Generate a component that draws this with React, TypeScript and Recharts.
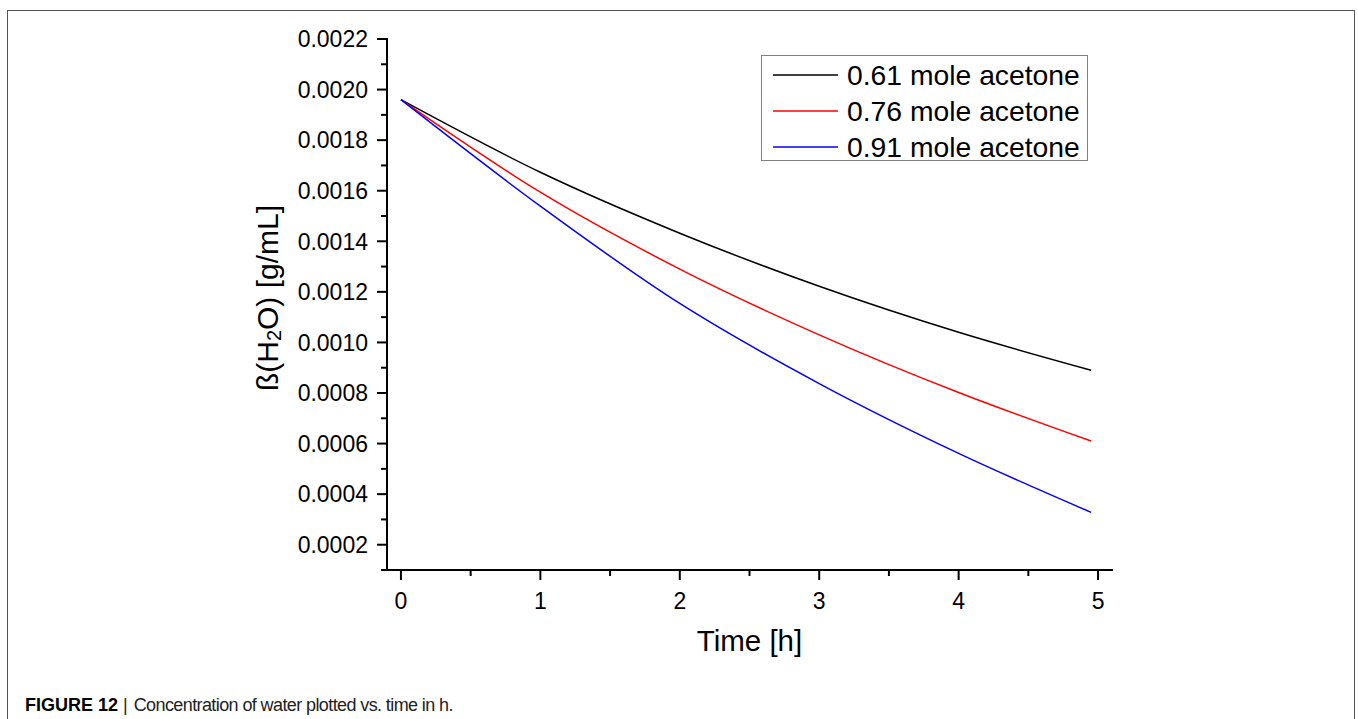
import { LineChart, Line, XAxis, YAxis, Legend } from "recharts";

const FONT = "'Liberation Sans', Arial, Helvetica, sans-serif";

// time in hours, concentrations in g/mL
const TIME_H = [0, 1, 2, 3, 4, 4.95];
const ACETONE_061 = [0.00196, 0.001673, 0.001432, 0.001222, 0.00104, 0.00089];
const ACETONE_076 = [0.00196, 0.001594, 0.00129, 0.00103, 0.000802, 0.00061];
const ACETONE_091 = [0.00196, 0.001539, 0.001154, 0.000837, 0.000561, 0.000328];

const SERIES = [
  { key: "a061", name: "0.61 mole acetone", color: "#000000", values: ACETONE_061 },
  { key: "a076", name: "0.76 mole acetone", color: "#ff0000", values: ACETONE_076 },
  { key: "a091", name: "0.91 mole acetone", color: "#0000ff", values: ACETONE_091 },
];

const X_TICKS = [0, 0.5, 1, 1.5, 2, 2.5, 3, 3.5, 4, 4.5, 5];
const Y_TICKS = [
  0.0001, 0.0002, 0.0003, 0.0004, 0.0005, 0.0006, 0.0007, 0.0008, 0.0009, 0.001, 0.0011,
  0.0012, 0.0013, 0.0014, 0.0015, 0.0016, 0.0017, 0.0018, 0.0019, 0.002, 0.0021, 0.0022,
];

const data = TIME_H.map((t, i) => {
  const row: Record<string, number> = { t };
  for (const s of SERIES) row[s.key] = s.values[i];
  return row;
});

const frame = { stroke: "#000", strokeWidth: 2, strokeLinecap: "square" as const };

function XTick({ x, y, payload }: any) {
  const major = Number.isInteger(payload.value);
  return (
    <g>
      <line x1={x} x2={x} y1={y} y2={y + (major ? 10 : 6)} stroke="#000" strokeWidth={2} />
      {major && (
        <text x={x} y={y + 39} textAnchor="middle" fontSize={23} fontFamily={FONT} fill="#000">
          {payload.value}
        </text>
      )}
    </g>
  );
}

function YTick({ x, y, payload }: any) {
  const major = Math.round(payload.value * 10000) % 2 === 0;
  return (
    <g>
      <line x1={x - (major ? 10 : 6)} x2={x} y1={y} y2={y} stroke="#000" strokeWidth={2} />
      {major && (
        <text x={x - 19} y={y} dy="0.36em" textAnchor="end" fontSize={23} fontFamily={FONT} fill="#000">
          {payload.value.toFixed(4)}
        </text>
      )}
    </g>
  );
}

function LegendBox({ payload }: any) {
  return (
    <div
      style={{
        border: "1px solid #808080",
        width: 327,
        height: 106,
        boxSizing: "border-box",
        background: "#fff",
        paddingTop: 1,
      }}
    >
      {(payload ?? []).map((p: any) => (
        <div key={p.value} style={{ height: 36, display: "flex", alignItems: "center" }}>
          <svg width={85} height={36} style={{ display: "block" }}>
            <line x1={11} x2={76} y1={18} y2={18} stroke={p.color} strokeWidth={1.5} />
          </svg>
          <span style={{ fontSize: 28.3, fontFamily: FONT, color: "#000", lineHeight: "36px", whiteSpace: "nowrap" }}>
            {p.value}
          </span>
        </div>
      ))}
    </div>
  );
}

export default function App() {
  return (
    <div
      style={{
        position: "fixed",
        left: 0,
        top: 0,
        width: 1358,
        height: 719,
        background: "#fff",
        overflow: "hidden",
      }}
    >
      <div
        style={{
          position: "absolute",
          left: 7,
          top: 10,
          width: 1348,
          height: 740,
          border: "1px solid #555",
          boxSizing: "border-box",
        }}
      />
      <div style={{ position: "absolute", left: 0, top: 0 }}>
        <LineChart width={1358} height={719} data={data} margin={{ top: 39, right: 246, bottom: 0, left: 0 }}>
          <XAxis
            dataKey="t"
            type="number"
            domain={[-0.1, 5.1]}
            ticks={X_TICKS}
            interval={0}
            tickSize={0}
            tickMargin={0}
            tickLine={false}
            tick={XTick}
            axisLine={frame}
            height={149}
            allowDataOverflow
            label={({ viewBox }: any) => (
              <text
                x={viewBox.x + viewBox.width / 2}
                y={viewBox.y + 81}
                textAnchor="middle"
                fontSize={29.5}
                fontFamily={FONT}
                fill="#000"
              >
                Time [h]
              </text>
            )}
          />
          <XAxis
            xAxisId="top"
            orientation="top"
            dataKey="t"
            type="number"
            domain={[-0.1, 5.1]}
            tick={false}
            tickLine={false}
            height={0}
            axisLine={frame}
            allowDataOverflow
          />
          <YAxis
            type="number"
            domain={[0.0001, 0.0022]}
            ticks={Y_TICKS}
            interval={0}
            tickSize={0}
            tickMargin={0}
            tickLine={false}
            tick={YTick}
            axisLine={frame}
            width={387}
            allowDataOverflow
            label={({ viewBox }: any) => {
              const cx = 267;
              const cy = viewBox.y + 259;
              return (
                <text
                  x={cx}
                  y={cy}
                  transform={`rotate(-90 ${cx} ${cy})`}
                  textAnchor="middle"
                  dominantBaseline="central"
                  fontSize={30}
                  fontFamily={FONT}
                  fill="#000"
                >
                  <tspan>ß(H</tspan>
                  <tspan dy={7} fontSize={20}>2</tspan>
                  <tspan dy={-7}>O) [g/mL]</tspan>
                </text>
              );
            }}
          />
          <YAxis
            yAxisId="right"
            orientation="right"
            type="number"
            domain={[0.0001, 0.0022]}
            tick={false}
            tickLine={false}
            width={0}
            axisLine={frame}
            allowDataOverflow
          />
          <Legend
            layout="vertical"
            align="center"
            verticalAlign="middle"
            content={LegendBox}
            wrapperStyle={{ position: "absolute", left: 761, top: 55, width: 327, height: 106 }}
          />
          {SERIES.map((s) => (
            <Line
              key={s.key}
              dataKey={s.key}
              name={s.name}
              type="monotone"
              stroke={s.color}
              strokeWidth={1.5}
              dot={false}
              activeDot={false}
              isAnimationActive={false}
            />
          ))}
        </LineChart>
      </div>
      <div
        style={{
          position: "absolute",
          left: 25,
          top: 695,
          fontSize: 18,
          lineHeight: "20px",
          fontFamily: FONT,
          color: "#222",
          whiteSpace: "nowrap",
        }}
      >
        <b style={{ color: "#000" }}>FIGURE 12</b>
        <span style={{ margin: "0 6px 0 5px" }}>|</span>
        <span style={{ letterSpacing: "-0.6px" }}>Concentration of water plotted vs. time in h.</span>
      </div>
    </div>
  );
}
